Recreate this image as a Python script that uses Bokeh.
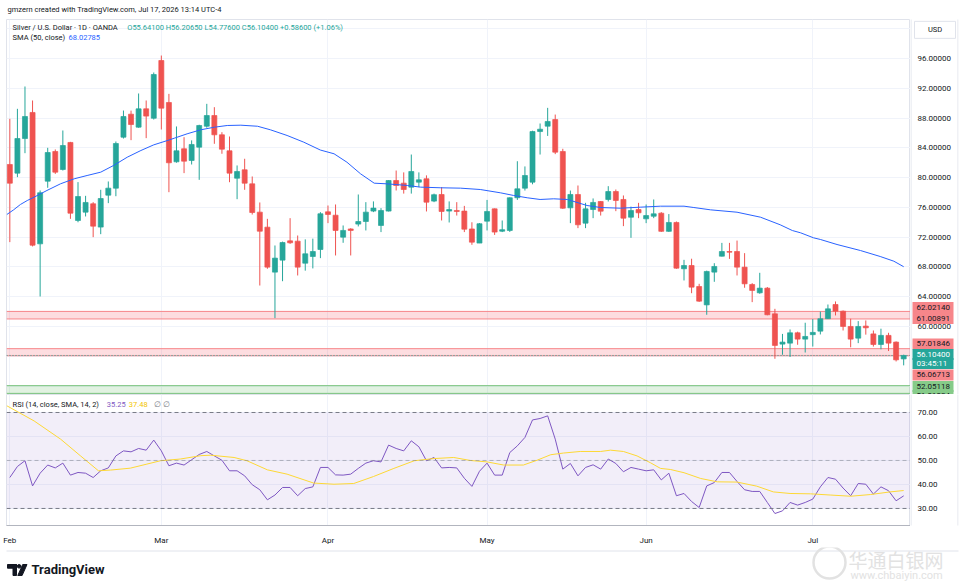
from bokeh.plotting import figure
from bokeh.models import Range1d, FixedTicker, Label, Span, BoxAnnotation, ColumnDataSource
from bokeh.layouts import column, row
from bokeh.embed import file_html
from bokeh.resources import INLINE
from bokeh.core.properties import value

# ---------------- data ----------------
opens = [81.76, 80.60, 85.25, 88.75, 71.10, 79.52, 83.51, 81.09, 84.72, 74.24,
         75.36, 76.48, 73.35, 77.64, 78.58, 85.43, 88.52, 86.78, 89.24, 87.98,
         95.73, 90.09, 82.12, 83.87, 82.30, 84.09, 86.90, 88.34, 85.75, 83.60,
         79.92, 81.05, 79.16, 75.36, 73.34, 67.30, 68.91, 71.50, 71.46, 68.50,
         69.40, 70.34, 75.40, 74.95, 72.00, 73.10, 73.75, 74.10, 75.50, 73.57,
         75.50, 79.61, 79.25, 78.72, 79.39, 79.84, 76.84, 77.73, 75.50, 75.58,
         75.50, 73.10, 71.20, 74.15, 75.80, 72.80, 72.90, 77.29, 78.58, 79.39,
         86.19, 86.91, 87.80, 83.51, 75.94, 77.73, 73.88, 75.71, 76.79, 77.06,
         78.13, 77.06, 74.68, 75.71, 74.46, 74.81, 75.22, 72.78, 73.97, 67.75,
         68.19, 65.37, 62.90, 67.30, 69.44, 70.07, 70.07, 67.97, 65.64, 64.52,
         65.15, 61.70, 57.63, 57.76, 59.15, 58.30, 58.90, 59.37, 61.04, 62.95,
         62.05, 60.00, 58.43, 60.05, 59.00, 57.58, 58.80, 57.90, 55.641]
highs = [87.90, 89.24, 92.24, 90.36, 78.27, 84.00, 83.78, 86.33, 84.80, 79.39,
         77.55, 76.70, 78.36, 79.48, 84.85, 89.01, 89.00, 91.30, 90.36, 94.12,
         96.40, 91.25, 86.87, 85.43, 85.00, 87.10, 89.91, 89.46, 86.10, 85.52,
         81.63, 82.53, 80.15, 76.66, 74.46, 70.88, 71.40, 74.55, 72.22, 71.70,
         71.80, 75.36, 76.25, 76.39, 73.57, 73.20, 77.73, 76.70, 76.80, 75.90,
         79.65, 80.95, 80.70, 83.10, 80.70, 80.30, 77.85, 78.72, 76.80, 76.70,
         76.20, 74.00, 73.90, 77.00, 75.85, 74.24, 77.35, 82.20, 81.50, 86.30,
         87.27, 89.37, 88.47, 83.87, 78.26, 78.94, 76.61, 77.20, 76.85, 78.85,
         78.40, 77.60, 76.10, 76.61, 76.39, 77.06, 75.36, 75.10, 74.10, 68.95,
         69.10, 65.73, 67.50, 68.50, 71.23, 71.23, 71.54, 69.85, 65.82, 67.21,
         65.30, 62.37, 59.00, 59.60, 59.30, 60.50, 61.00, 62.00, 62.95, 63.36,
         62.15, 61.04, 60.72, 60.81, 59.46, 59.70, 59.15, 57.99, 56.2065]
lows = [71.33, 80.06, 83.28, 70.75, 64.03, 78.63, 80.50, 80.95, 74.46, 74.00,
        74.78, 72.00, 72.40, 76.57, 77.50, 85.25, 85.03, 86.70, 85.30, 87.80,
        86.46, 78.04, 82.00, 80.60, 81.76, 79.70, 86.70, 84.54, 83.20, 79.38,
        77.10, 78.36, 75.04, 65.50, 67.75, 61.12, 66.08, 71.10, 66.85, 67.50,
        67.80, 69.18, 73.88, 69.54, 71.24, 69.54, 73.44, 72.90, 75.36, 72.68,
        75.45, 78.27, 77.85, 77.85, 78.72, 75.45, 76.70, 74.24, 73.97, 74.90,
        72.68, 70.97, 71.20, 72.90, 72.30, 72.68, 72.70, 77.00, 78.26, 79.10,
        83.10, 85.60, 83.15, 75.80, 73.88, 73.21, 73.21, 74.55, 74.90, 76.79,
        75.49, 73.48, 71.91, 74.55, 73.88, 74.55, 72.70, 72.70, 67.75, 66.18,
        64.47, 63.30, 61.57, 66.00, 69.40, 69.08, 66.85, 65.20, 63.27, 64.39,
        61.50, 55.66, 56.20, 55.90, 57.54, 56.50, 57.30, 58.93, 61.00, 61.48,
        59.46, 57.20, 57.76, 58.90, 57.30, 56.93, 56.70, 55.30, 54.776]
closes = [79.25, 85.25, 88.21, 70.92, 77.96, 83.37, 80.73, 84.31, 75.22, 77.46,
          76.66, 73.48, 77.19, 78.58, 84.58, 88.21, 87.13, 89.24, 88.26, 93.85,
          89.33, 81.99, 83.60, 82.21, 84.45, 87.00, 88.34, 85.75, 83.82, 80.60,
          80.82, 79.25, 75.31, 72.80, 67.97, 69.18, 71.28, 71.24, 67.97, 69.76,
          70.07, 75.14, 75.05, 72.90, 72.90, 72.90, 74.10, 75.36, 75.90, 75.58,
          79.61, 78.94, 78.40, 80.82, 79.70, 76.70, 77.70, 75.45, 75.70, 75.45,
          73.07, 71.33, 73.80, 75.45, 72.68, 73.00, 77.29, 78.49, 80.28, 86.19,
          86.50, 87.54, 83.42, 75.89, 77.73, 73.66, 75.80, 76.66, 75.49, 78.13,
          76.93, 74.55, 75.58, 75.27, 74.90, 75.13, 72.78, 73.97, 67.83, 68.19,
          65.28, 63.40, 67.39, 68.06, 70.07, 69.98, 67.97, 65.73, 64.84, 65.15,
          61.57, 57.45, 57.90, 59.15, 58.30, 58.66, 59.20, 61.04, 62.37, 62.05,
          60.00, 58.30, 60.00, 59.82, 57.58, 58.80, 57.76, 55.518, 56.104]

sma50_x = [-0.4, 0.5, 1.4, 2.3, 3.2, 4.9, 6.7, 8.5, 10.2, 12, 13.7, 15.5, 17.3, 19, 20.8,
           21.7, 23.4, 25.2, 27, 28.7, 30.5, 32.7, 34.4, 36.6, 38.8, 41, 42.8, 44.5, 46.3,
           48.1, 49.8, 52.5, 54.2, 56.9, 59.5, 62.1, 64.8, 66.5, 68.3, 70, 71.8, 73.6, 76.2,
           78, 80.6, 83.3, 85.9, 89, 90.3, 92.5, 96, 99.1, 101.7, 103.3, 104.4, 106.1, 107,
           109.2, 112.3, 114.9, 116.7, 118]
sma50_y = [75.04, 75.67, 76.39, 76.92, 77.37, 78.27, 79.17, 79.84, 80.28, 80.73, 81.63, 82.74,
           83.64, 84.40, 84.98, 85.29, 85.88, 86.42, 86.77, 87.00, 87.04, 86.90, 86.42, 85.66,
           84.76, 83.70, 83.20, 82.07, 80.51, 79.25, 79.16, 78.94, 78.72, 78.63, 78.58, 78.40,
           77.95, 77.60, 77.29, 77.06, 77.15, 77.06, 76.25, 75.98, 75.89, 76.03, 76.16, 76.16,
           75.98, 75.67, 75.35, 74.68, 73.66, 72.89, 72.58, 71.91, 71.69, 71.01, 70.20, 69.40,
           68.77, 68.02785]

rsi = [42.9, 47.5, 49.9, 39.4, 44.7, 48.1, 46.9, 48.9, 43.9, 45.0,
       44.7, 42.9, 45.7, 46.9, 51.9, 54.0, 53.6, 55.0, 54.3, 58.5,
       54.0, 47.8, 48.9, 48.1, 50.3, 52.5, 53.75, 51.9, 50.1, 45.7,
       45.7, 43.6, 39.9, 37.8, 33.6, 35.6, 38.75, 38.75, 35.3, 38.3,
       39.0, 47.1, 47.1, 44.0, 43.9, 44.3, 46.7, 48.9, 49.9, 49.4,
       56.4, 55.0, 54.0, 58.2, 55.7, 49.9, 51.25, 46.9, 47.1, 46.9,
       42.6, 39.2, 45.5, 48.9, 43.9, 43.9, 53.3, 56.1, 59.6, 66.9,
       67.5, 68.6, 58.9, 46.4, 48.75, 43.6, 47.1, 48.2, 46.4, 50.6,
       48.75, 45.3, 47.1, 46.4, 45.7, 46.1, 41.9, 44.7, 35.3, 36.25,
       32.9, 30.4, 39.4, 40.8, 45.0, 45.0, 41.25, 37.8, 37.1, 37.1,
       32.5, 27.9, 29.0, 32.5, 31.4, 32.5, 33.9, 39.0, 42.9, 42.2,
       38.5, 35.3, 40.4, 40.1, 36.0, 39.0, 37.4, 33.2, 35.25]

rsi_sma_x = [-0.4, 3.2, 6.7, 9.3, 11.7, 13.3, 15.9, 18.1, 19.9, 22.5, 25.2, 26.5, 29.6, 31.3,
             34, 36.6, 40.1, 42.8, 45.4, 48, 50.7, 53.4, 56, 58.6, 60.8, 63, 65.2, 67.8, 69.6,
             71.4, 73.1, 75.3, 78, 79.3, 81, 82.8, 84.6, 85.9, 87.2, 89, 91.2, 93.4, 96, 98.6,
             100.8, 103, 105.7, 108.3, 111, 113.6, 116.2, 118]
rsi_sma_y = [72.8, 66.5, 58.9, 52.0, 45.7, 46.0, 46.8, 48.5, 49.9, 50.6, 52.0, 52.2, 51.25, 49.9,
             46.1, 44.3, 40.6, 40.1, 40.4, 43.3, 46.7, 49.9, 50.8, 51.25, 50.0, 49.4, 48.1, 48.1,
             50.1, 52.4, 53.1, 53.75, 53.75, 54.3, 53.75, 51.9, 49.0, 46.7, 46.25, 44.9, 42.5,
             41.1, 41.0, 39.3, 36.9, 36.25, 36.1, 35.6, 35.1, 35.8, 36.9, 37.48]

month_ticks = [0, 20, 42, 63, 84, 106]
month_labels = ["Feb", "Mar", "Apr", "May", "Jun", "Jul"]
price_ticks = [60, 64, 68, 72, 76, 80, 84, 88, 92, 96]
rsi_ticks = [30, 40, 50, 60, 70]
zone_tops = [62.02140, 57.01846, 52.05118]
zone_bottoms = [61.00891, 56.06713, 51.01024]
zone_kinds = ["res", "res", "sup"]
countdown = "03:45:11"

# ---------------- styles ----------------
FONT = "Roboto"
TXT = "#131722"
UP = "#26A69A"
DN = "#EF5350"
GRID = "#F0F3FA"
BORDER = "#E0E3EB"
W = 964
LB = 6          # left border
FW = 904        # pane width
SW = 48         # price-scale width
RB = 6          # right border
XR = Range1d(-0.44, 118.9)
ZONE_LINE = {"res": "#F7868A", "sup": "#7CC47F"}
ZONE_FILL = {"res": "#F23645", "sup": "#4CAF50"}
TAG_BG = {"res": "#F7868A", "sup": "#86CB89"}
WM = "#E2E2E2"

n = len(closes)
idx = list(range(n))
src = ColumnDataSource(dict(
    x=idx, h=highs, l=lows,
    top=[max(o, c) for o, c in zip(opens, closes)],
    bottom=[min(o, c) for o, c in zip(opens, closes)],
    color=[UP if c >= o else DN for o, c in zip(opens, closes)],
))


def bare(fig):
    fig.grid.visible = False
    fig.outline_line_color = None
    fig.background_fill_color = "white"
    fig.border_fill_color = "white"


def lab(fig, x, y, text, color, size="7.5px"):
    fig.add_layout(Label(x=x, y=y, text=text, text_color=color, text_font=FONT,
                         text_font_size=size, text_baseline="middle"))


# ---------------- header ----------------
hdr = figure(width=W, height=19, x_range=Range1d(0, W), y_range=Range1d(0, 19),
             x_axis_location=None, y_axis_location=None, toolbar_location=None,
             output_backend="svg", min_border=0)
bare(hdr)
hdr.text(x=[7], y=[10], text=["gmzern created with TradingView.com, Jul 17, 2026 13:14 UTC-4"],
         text_font=value(FONT), text_font_size="7.5px", text_baseline="middle", text_color=TXT)

# ---------------- main pane ----------------
p = figure(frame_width=FW, frame_height=375, x_range=XR, y_range=Range1d(50.86, 101.24),
           x_axis_location=None, y_axis_location=None, output_backend="svg",
           toolbar_location=None, min_border=0, min_border_left=LB)
p.outline_line_color = BORDER
p.xgrid.ticker = FixedTicker(ticks=month_ticks)
p.xgrid.grid_line_color = GRID
p.ygrid.ticker = FixedTicker(ticks=[52, 56] + price_ticks + [100])
p.ygrid.grid_line_color = GRID

for top, bot, kind in zip(zone_tops, zone_bottoms, zone_kinds):
    p.add_layout(BoxAnnotation(bottom=bot, top=top, fill_color=ZONE_FILL[kind], fill_alpha=0.17,
                               line_color=None, level="underlay"))
    for lev in (top, bot):
        p.add_layout(Span(location=lev, dimension="width", line_color=ZONE_LINE[kind],
                          line_width=1, level="underlay"))
p.add_layout(Span(location=closes[-1], dimension="width", line_color=UP, line_width=1,
                  line_dash="1 2", level="underlay"))

p.segment(x0="x", y0="l", x1="x", y1="h", color="color", line_width=1, source=src)
p.vbar(x="x", width=0.66, top="top", bottom="bottom", fill_color="color", line_color="color",
       line_width=0.7, source=src)
p.line(sma50_x, sma50_y, color="#2962FF", line_width=1)

chg = closes[-1] - closes[-2]
pct = chg / closes[-2] * 100
ohlc_txt = (f"O{opens[-1]:.5f} H{highs[-1]:.5f} L{lows[-1]:.5f} C{closes[-1]:.5f} "
            f"+{chg:.5f} (+{pct:.2f}%)")
lab(p, 0.36, 100.16, "Silver / U.S. Dollar · 1D · OANDA", TXT)
lab(p, 15.5, 100.16, ohlc_txt, UP)
lab(p, 0.36, 98.82, "SMA (50, close)", TXT)
lab(p, 7.75, 98.82, f"{sma50_y[-1]:.5f}", "#2962FF")

# ---------------- main price scale (right) ----------------
ps = figure(frame_width=SW, frame_height=375, x_range=Range1d(0, SW), y_range=p.y_range,
            x_axis_location=None, y_axis_location=None, output_backend="svg",
            toolbar_location=None, min_border=0, min_border_right=RB)
bare(ps)
ps.text(x=[7] * len(price_ticks), y=price_ticks, text=[f"{t:.5f}" for t in price_ticks],
        text_font=value(FONT), text_font_size="8px", text_baseline="middle", text_color=TXT)
tag_y = [62.55, 61.07, 57.65, 56.24, 55.03, 53.48, 51.94, 50.72]
tag_txt = [f"{zone_tops[0]:.5f}", f"{zone_bottoms[0]:.5f}", f"{zone_tops[1]:.5f}",
           f"{closes[-1]:.5f}", countdown, f"{zone_bottoms[1]:.5f}",
           f"{zone_tops[2]:.5f}", f"{zone_bottoms[2]:.5f}"]
tag_bg = [TAG_BG["res"], TAG_BG["res"], TAG_BG["res"], UP, UP, TAG_BG["res"],
          TAG_BG["sup"], TAG_BG["sup"]]
tag_fg = [TXT, TXT, TXT, "white", "white", TXT, TXT, TXT]
ps.rect(x=[22.5] * len(tag_y), y=tag_y, width=41, height=11, height_units="screen",
        fill_color=tag_bg, line_color=None)
ps.text(x=[6] * len(tag_y), y=tag_y, text=tag_txt, text_color=tag_fg, text_font=value(FONT),
        text_font_size="8px", text_baseline="middle")
ps.rect(x=[24.5], y=[99.85], width=41, height=17, height_units="screen", fill_color="white",
        line_color=BORDER)
ps.text(x=[24.5], y=[99.85], text=["USD"], text_font=value(FONT), text_font_size="7.5px",
        text_align="center", text_baseline="middle", text_color=TXT)
ps.segment(x0=[0.5, 47.5], y0=[50, 50], x1=[0.5, 47.5], y1=[102, 102], line_color=BORDER,
           line_width=1)

# ---------------- RSI pane ----------------
r = figure(frame_width=FW, frame_height=131, x_range=XR, y_range=Range1d(22.9, 77.5),
           y_axis_location=None, output_backend="svg", toolbar_location=None,
           min_border_left=LB, min_border_right=0, min_border_top=0, min_border_bottom=15)
r.outline_line_color = BORDER
r.add_layout(BoxAnnotation(bottom=30, top=70, fill_color="#7E57C2", fill_alpha=0.1,
                           line_color=None, level="underlay"))
r.xaxis.ticker = FixedTicker(ticks=month_ticks)
r.xaxis.major_label_overrides = {t: m for t, m in zip(month_ticks, month_labels)}
r.xaxis.major_label_text_font = FONT
r.xaxis.major_label_text_font_size = "8px"
r.xaxis.major_label_text_color = TXT
r.xaxis.major_tick_line_color = None
r.xaxis.minor_tick_line_color = None
r.xaxis.axis_line_color = "#B2B5BE"
r.xaxis.major_label_standoff = 4
r.xgrid.grid_line_color = GRID
r.ygrid.ticker = FixedTicker(ticks=rsi_ticks)
r.ygrid.grid_line_color = GRID
r.add_layout(Span(location=70, dimension="width", line_color="#787B86", line_dash="4 3", line_width=1))
r.add_layout(Span(location=30, dimension="width", line_color="#787B86", line_dash="4 3", line_width=1))
r.add_layout(Span(location=50, dimension="width", line_color="#787B86", line_alpha=0.5,
                  line_dash="4 3", line_width=1))
r.line(idx, rsi, color="#7E57C2", line_width=1)
r.line(rsi_sma_x, rsi_sma_y, color="#FDD835", line_width=1)
lab(r, 0.36, 73.3, "RSI (14, close, SMA, 14, 2)", TXT)
lab(r, 12.8, 73.3, f"{rsi[-1]:.2f}", "#7E57C2")
lab(r, 15.7, 73.3, f"{rsi_sma_y[-1]:.2f}", "#F2C500")
lab(r, 19.0, 73.3, "∅  ∅", "#787B86")

rs = figure(frame_width=SW, frame_height=131, x_range=Range1d(0, SW), y_range=r.y_range,
            x_axis_location=None, y_axis_location=None, output_backend="svg",
            toolbar_location=None, min_border=0, min_border_right=RB, min_border_bottom=15)
bare(rs)
rs.text(x=[7] * len(rsi_ticks), y=rsi_ticks, text=[f"{t:.2f}" for t in rsi_ticks],
        text_font=value(FONT), text_font_size="8px", text_baseline="middle", text_color=TXT)
rs.segment(x0=[0.5, 47.5], y0=[20, 20], x1=[0.5, 47.5], y1=[80, 80], line_color=BORDER,
           line_width=1)

# ---------------- footer (branding + watermark) ----------------
FH = 42
f = figure(width=W, height=FH, x_range=Range1d(0, W), y_range=Range1d(0, FH),
           x_axis_location=None, y_axis_location=None, toolbar_location=None,
           output_backend="svg", min_border=0)
bare(f)
f.segment(x0=[LB], y0=[FH - 3.5], x1=[W - RB], y1=[FH - 3.5], line_color=BORDER, line_width=1)
f.circle(x=[829], y=[27], radius=16, fill_color=None, line_color=WM, line_width=2.5)
f.text(x=[848], y=[30], text=["华通白银网"], text_font=value("Noto Sans CJK SC"),
       text_font_size="19px", text_baseline="middle", text_color=WM)
f.text(x=[850], y=[14], text=["www.chbaiyin.com"], text_font=value(FONT), text_font_size="11px",
       text_baseline="middle", text_color=WM)
f.quad(left=[7, 12.5], right=[16, 16], bottom=[21.3, 14], top=[25, 25], color=TXT)
f.circle(x=[18.6], y=[23.2], radius=1.8, color=TXT)
f.patch(x=[17.3, 21.6, 26.5, 22.2], y=[14, 14, 25, 25], color=TXT)
f.text(x=[31], y=[20], text=["TradingView"], text_font=value(FONT), text_font_size="13px",
       text_font_style="bold", text_baseline="middle", text_color=TXT)

layout = column(hdr, row(p, ps), row(r, rs), f)
open("out.html", "w").write(file_html(layout, INLINE))
